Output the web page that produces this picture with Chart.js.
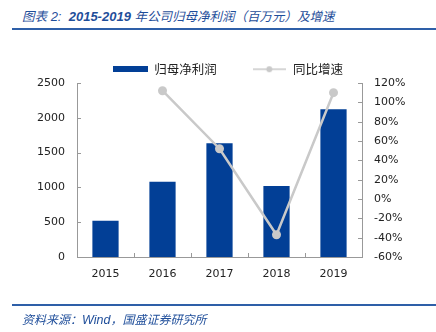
<!DOCTYPE html>
<html>
<head>
<meta charset="utf-8">
<script src="https://cdn.jsdelivr.net/npm/chart.js@4.4.0/dist/chart.umd.min.js"></script>
<style>
  html, body { margin: 0; padding: 0; background: #fff; }
  #wrap { position: relative; width: 436px; height: 332px; overflow: hidden; }
  #c { position: absolute; left: 0; top: 0; }
  .title { position: absolute; left: 22px; top: 6px; font: italic 12.5px "Noto Sans CJK SC", sans-serif; color: #1f4e9a; white-space: nowrap; }
  .title b { font: italic bold 13px "Liberation Sans", sans-serif; }
  .title span { font: italic 13px "Liberation Sans", sans-serif; }
  .rule { position: absolute; left: 12px; right: 0; height: 2px; background: #2e5fa8; }
  .source { position: absolute; left: 22px; top: 310px; font: italic 12px "Noto Sans CJK SC", sans-serif; color: #1f4e9a; white-space: nowrap; }
  .source i { font: italic 12.5px "Liberation Sans", sans-serif; }
</style>
</head>
<body>
<div id="wrap">
  <div class="title">图表<span>&nbsp;2:&nbsp;&nbsp;</span><b>2015-2019</b><span>&nbsp;</span>年公司归母净利润（百万元）及增速</div>
  <div class="rule" style="top:28px"></div>
  <canvas id="c" width="436" height="332"></canvas>
  <div class="rule" style="top:304px"></div>
  <div class="source">资料来源：<i>Wind</i>，国盛证券研究所</div>
</div>
<script>
const years = ['2015', '2016', '2017', '2018', '2019'];
const netProfit = [521, 1082, 1633, 1020, 2122];   // 归母净利润（百万元）
const growth = [null, 112, 52, -37, 110];          // 同比增速（%）

const blue = '#023f96';
const grey = '#c9c9c9';
const axisGrey = '#999999';

// legend swatches
function swatch(w, h, draw) {
  const cv = document.createElement('canvas');
  cv.width = w; cv.height = h;
  draw(cv.getContext('2d'));
  return cv;
}
const barSwatch = swatch(35, 6, g => { g.fillStyle = blue; g.fillRect(0, 0, 35, 6); });
const lineSwatch = swatch(33, 8, g => {
  g.strokeStyle = grey; g.lineWidth = 1.6;
  g.beginPath(); g.moveTo(0, 4); g.lineTo(33, 4); g.stroke();
  g.fillStyle = grey; g.beginPath(); g.arc(16.5, 4, 3, 0, Math.PI * 2); g.fill();
});

// small inward tick marks on all three axes
const innerTicks = {
  id: 'innerTicks',
  afterDraw(chart) {
    const { ctx, chartArea, scales } = chart;
    ctx.save();
    ctx.strokeStyle = axisGrey;
    ctx.lineWidth = 1;
    ctx.beginPath();
    scales.y.ticks.forEach(t => {
      const py = Math.round(scales.y.getPixelForValue(t.value)) + 0.5;
      ctx.moveTo(chartArea.left, py); ctx.lineTo(chartArea.left + 4, py);
    });
    scales.y1.ticks.forEach(t => {
      const py = Math.round(scales.y1.getPixelForValue(t.value)) + 0.5;
      ctx.moveTo(chartArea.right, py); ctx.lineTo(chartArea.right - 4, py);
    });
    for (let i = 1; i < years.length; i++) {
      const px = Math.round((scales.x.getPixelForValue(i - 1) + scales.x.getPixelForValue(i)) / 2) + 0.5;
      ctx.moveTo(px, chartArea.bottom); ctx.lineTo(px, chartArea.bottom - 4);
    }
    ctx.stroke();
    ctx.restore();
  }
};

const tickFont = { family: '"DejaVu Sans", sans-serif', size: 11 };

new Chart(document.getElementById('c'), {
  type: 'bar',
  data: {
    labels: years,
    datasets: [
      {
        label: '归母净利润',
        data: netProfit,
        backgroundColor: blue,
        yAxisID: 'y',
        order: 1,
        categoryPercentage: 1,
        barPercentage: 0.46
      },
      {
        type: 'line',
        label: '同比增速',
        data: growth,
        borderColor: grey,
        backgroundColor: grey,
        borderWidth: 2.5,
        pointRadius: 4.5,
        pointHoverRadius: 4.5,
        pointBackgroundColor: grey,
        pointBorderWidth: 0,
        yAxisID: 'y1',
        order: 0
      }
    ]
  },
  options: {
    responsive: false,
    animation: false,
    layout: { padding: { top: 28, bottom: 45, left: 20, right: 0 } },
    plugins: {
      legend: {
        maxHeight: 55,
        labels: {
          font: { family: '"Noto Sans CJK SC", sans-serif', size: 12.5 },
          color: '#222',
          usePointStyle: true,
          pointStyleWidth: 35,
          boxHeight: 6,
          padding: 35,
          sort: (a, b) => a.datasetIndex - b.datasetIndex,
          generateLabels(chart) {
            const items = Chart.defaults.plugins.legend.labels.generateLabels(chart);
            items.forEach(it => { it.pointStyle = it.datasetIndex === 0 ? barSwatch : lineSwatch; });
            return items;
          }
        }
      },
      tooltip: { enabled: false }
    },
    scales: {
      x: {
        grid: { display: false, drawTicks: false },
        border: { display: true, color: axisGrey },
        ticks: { font: tickFont, color: '#222', padding: 11 },
        afterFit: s => { s.height = 30; }
      },
      y: {
        position: 'left',
        min: 0, max: 2500,
        ticks: { stepSize: 500, font: tickFont, color: '#222', padding: 12, callback: v => String(v) },
        grid: { display: false, drawTicks: false },
        border: { display: true, color: axisGrey },
        afterFit: s => { s.width = 57; }
      },
      y1: {
        position: 'right',
        min: -60, max: 120,
        ticks: { stepSize: 20, font: tickFont, color: '#222', padding: 12, callback: v => v + '%' },
        grid: { display: false, drawTicks: false },
        border: { display: true, color: axisGrey },
        afterFit: s => { s.width = 74; }
      }
    }
  },
  plugins: [innerTicks]
});
</script>
</body>
</html>
